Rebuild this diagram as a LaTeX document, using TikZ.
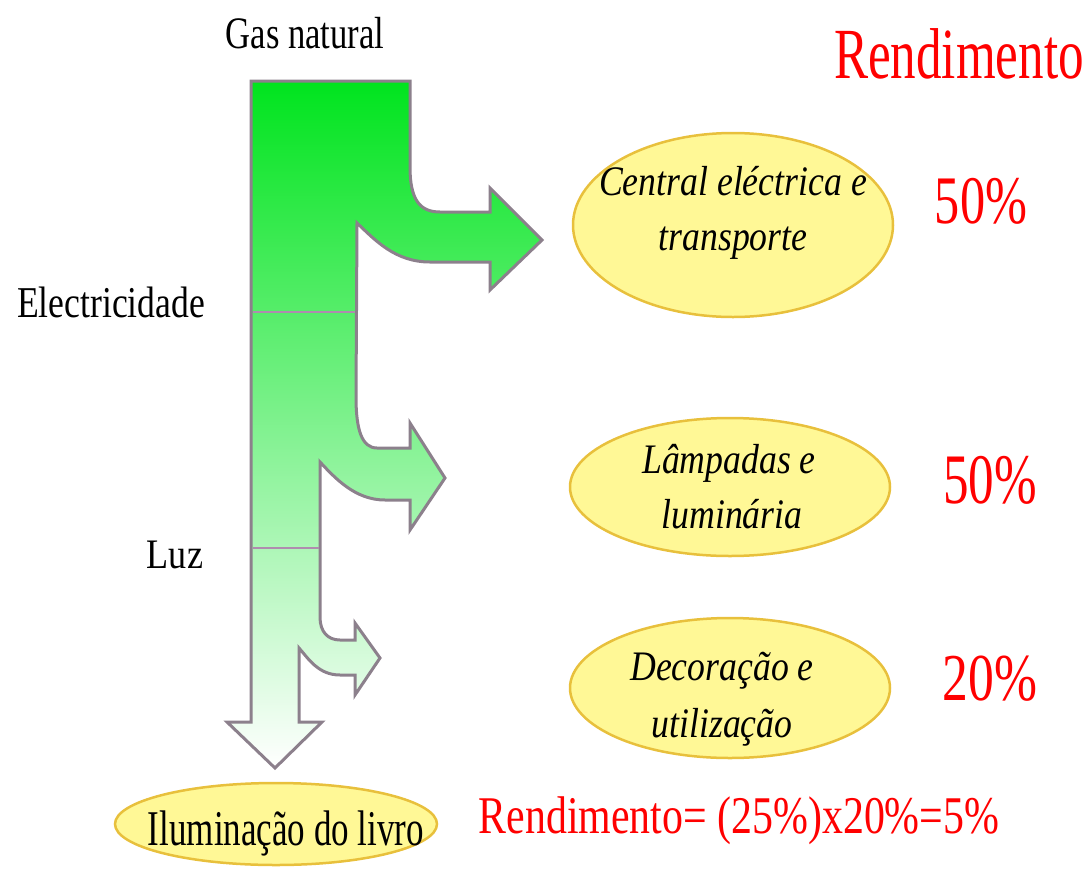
\documentclass[tikz,border=0pt]{standalone}
\usepackage{fontspec}
\setmainfont{Liberation Serif}
\usepackage{graphicx}
\usetikzlibrary{shapes.geometric}
\definecolor{flowtop}{RGB}{0,228,30}
\definecolor{flowline}{RGB}{140,128,140}
\definecolor{divline}{RGB}{175,140,175}
\definecolor{ellfill}{RGB}{255,248,150}
\definecolor{elldraw}{RGB}{232,192,60}
\newcommand{\hsq}[2]{\scalebox{#1}[1]{#2}}
\begin{document}
\begin{tikzpicture}[x=1pt,y=-1pt,
  lbl/.style={anchor=base, inner sep=0pt, outer sep=0pt},
  etxt/.style={lbl, font=\itshape\fontsize{42}{50}\selectfont},
  ell/.style={ellipse, draw=elldraw, fill=ellfill, line width=2.5pt, inner sep=0pt},
  pct/.style={lbl, text=red},
  divider/.style={draw=divline, line width=1.5pt}
  ]
\useasboundingbox (0,0) rectangle (1090,868);

% Sankey flow
\shadedraw[top color=flowtop, bottom color=white, draw=flowline, line width=3pt, line join=miter]
 (251,81) -- (410,81) -- (410,167)
 .. controls (410,200) and (420,212) .. (440,212) -- (490,212) -- (490,188) -- (542,240) -- (490,290) -- (490,262) -- (430,262)
 .. controls (395,262) and (375,240) .. (357,223) -- (356,397)
 .. controls (356,430) and (362,448) .. (377,448) -- (410,448) -- (410,423) -- (445,478) -- (410,530) -- (410,500) -- (385,500)
 .. controls (355,500) and (335,478) .. (320,462) -- (320,617)
 .. controls (320,632) and (328,640) .. (340,640) -- (355,640) -- (355,623) -- (380,658) -- (355,695) -- (355,675) -- (340,675)
 .. controls (318,675) and (308,658) .. (299,648) -- (299,722) -- (322,722) -- (275,768) -- (227,722) -- (251,722) -- cycle;
\path[divider] (253,312) -- (355,312);
\path[divider] (253,548) -- (319,548);

% left labels
\node[lbl, font=\fontsize{45}{50}\selectfont] (gas) at (305,48) {\hsq{0.77}{Gas natural}};
\node[lbl, font=\fontsize{44}{50}\selectfont] (elec) at (111,317) {\hsq{0.81}{Electricidade}};
\node[lbl, font=\fontsize{42}{50}\selectfont] (luz) at (175,568) {\hsq{0.86}{Luz}};

% title
\node[pct, font=\fontsize{72}{80}\selectfont] (rendtitle) at (959,78) {\hsq{0.71}{Rendimento}};

% ellipses
\node[ell, minimum width=320pt, minimum height=184pt] (e1) at (733,225) {};
\node[etxt] (e1a) at (733,195) {\hsq{0.85}{Central eléctrica e}};
\node[etxt] (e1b) at (733,250) {\hsq{0.85}{transporte}};

\node[ell, minimum width=320pt, minimum height=138pt] (e2) at (730,487) {};
\node[etxt] (e2a) at (729,473) {\hsq{0.85}{Lâmpadas e}};
\node[etxt] (e2b) at (732,528) {\hsq{0.85}{luminária}};

\node[ell, minimum width=320pt, minimum height=140pt] (e3) at (730,688) {};
\node[etxt] (e3a) at (722,680) {\hsq{0.85}{Decoração e}};
\node[etxt] (e3b) at (722,737) {\hsq{0.85}{utilização}};

\node[ell, minimum width=322pt, minimum height=82pt] (e4) at (276,824) {};
\node[lbl, font=\fontsize{50}{55}\selectfont] (e4a) at (286,845) {\hsq{0.7}{Iluminação do livro}};

% percentages
\node[pct, font=\fontsize{68}{70}\selectfont] (p1) at (981,223) {\hsq{0.74}{50\%}};
\node[pct, font=\fontsize{71}{70}\selectfont] (p2) at (990,503) {\hsq{0.72}{50\%}};
\node[pct, font=\fontsize{67}{70}\selectfont] (p3) at (990,700) {\hsq{0.77}{20\%}};

% formula
\node[pct, font=\fontsize{53}{60}\selectfont] (formula) at (739,833) {\hsq{0.79}{Rendimento= (25\%)x20\%=5\%}};
\end{tikzpicture}
\end{document}
